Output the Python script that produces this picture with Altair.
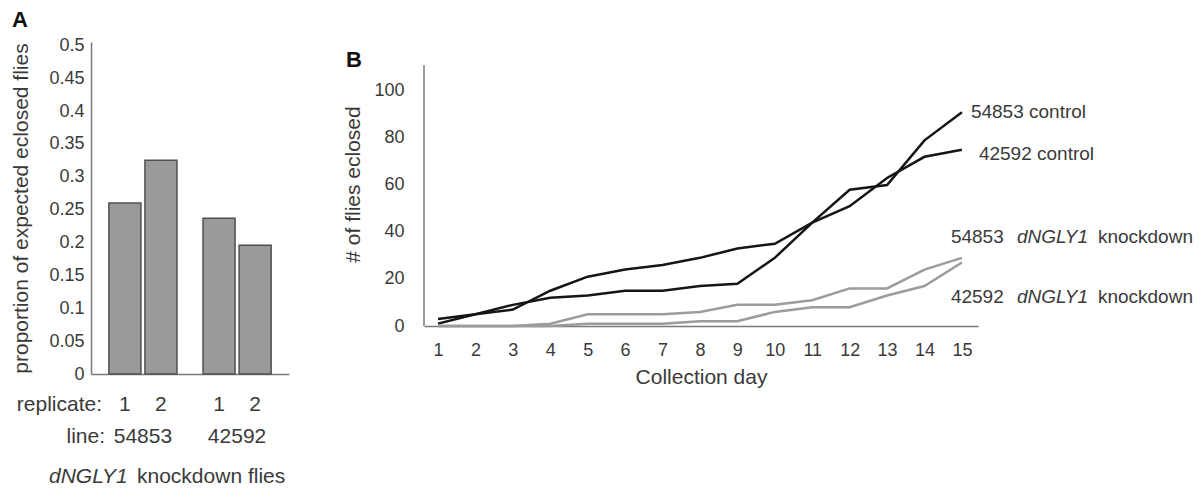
import altair as alt
import pandas as pd

# ---------------- data ----------------
# Panel A
bar_lines = ["54853", "54853", "42592", "42592"]
bar_replicates = ["1", "2", "1", "2"]
bar_props = [0.26, 0.325, 0.237, 0.196]
line_order = ["54853", "42592"]
a_ticks = [0, 0.05, 0.1, 0.15, 0.2, 0.25, 0.3, 0.35, 0.4, 0.45, 0.5]

# Panel B
days = list(range(1, 16))
ctrl_54853 = [3, 5, 9, 12, 13, 15, 15, 17, 18, 29, 44, 58, 60, 79, 91]
ctrl_42592 = [1, 5, 7, 15, 21, 24, 26, 29, 33, 35, 44, 51, 63, 72, 75]
kd_54853 = [0, 0, 0, 1, 5, 5, 5, 6, 9, 9, 11, 16, 16, 24, 29]
kd_42592 = [0, 0, 0, 0, 1, 1, 1, 2, 2, 6, 8, 8, 13, 17, 27]
series_names = ["54853 control", "42592 control", "54853 knockdown", "42592 knockdown"]
series_colors = ["#151515", "#151515", "#9c9c9c", "#9c9c9c"]
b_yticks = [0, 20, 40, 60, 80, 100]

FONT = "Liberation Sans"
TXT = "#3a3a3a"
AX = "#7a7a7a"

df_a = pd.DataFrame({"line": bar_lines, "replicate": bar_replicates, "prop": bar_props})
rows = []
for name, vals in zip(series_names, [ctrl_54853, ctrl_42592, kd_54853, kd_42592]):
    for d, v in zip(days, vals):
        rows.append({"series": name, "day": d, "count": v})
df_b = pd.DataFrame(rows)
one = pd.DataFrame({"k": [0]})

# ---------------- panel A ----------------
A_W, A_H = 198, 332
xA = alt.X("line:N", sort=line_order,
           scale=alt.Scale(paddingInner=0.2766, paddingOuter=0.19),
           axis=alt.Axis(labels=False, ticks=False, title=None, domainColor=AX, domainWidth=1.5))
xoA = alt.XOffset("replicate:N", scale=alt.Scale(paddingInner=0.111, paddingOuter=0))
yA = alt.Y("prop:Q", scale=alt.Scale(domain=[0, 0.505], nice=False),
           axis=alt.Axis(values=a_ticks, format=".2~f", ticks=False, grid=False,
                         labelFontSize=18, labelColor=TXT, labelPadding=7,
                         title="proportion of expected eclosed flies",
                         titleFontSize=21, titleFontWeight="normal", titleColor=TXT,
                         titlePadding=17, domainColor=AX, domainWidth=1.5))

base_a = alt.Chart(df_a)
bars = base_a.mark_bar(fill="#9a9a9a", stroke="#505050", strokeWidth=1.5).encode(
    x=xA, xOffset=xoA, y=yA)
rep_text = base_a.mark_text(font=FONT, fontSize=21, color=TXT, baseline="middle").encode(
    x=alt.X("line:N", sort=line_order), xOffset="replicate:N",
    y=alt.value(363), text="replicate:N")
line_text = base_a.transform_filter(alt.datum.replicate == "1").mark_text(
    font=FONT, fontSize=21, color=TXT, baseline="middle").encode(
    x=alt.X("line:N", sort=line_order), y=alt.value(395), text="line:N")

def label(txt, x, y, size=21, style="normal", weight="normal", align="left", color=TXT):
    return alt.Chart(one).mark_text(text=txt, font=FONT, fontSize=size, color=color,
                                    fontStyle=style, fontWeight=weight, align=align,
                                    baseline="middle").encode(x=alt.value(x), y=alt.value(y))

rep_lab = label("replicate:", 11, 363, align="right")
line_lab = label("line:", 14, 395, align="right")
foot1 = label("dNGLY1", -42, 435, style="italic")
foot2 = label("knockdown flies", 46, 435)
lab_A = label("A", -79, -22, size=22, weight="bold", color="#111")

panel_a = alt.layer(bars, rep_text, line_text, rep_lab, line_lab, foot1, foot2, lab_A).properties(
    width=A_W, height=A_H)

# ---------------- panel B ----------------
B_W, B_H = 554, 284
xB = alt.X("day:Q", scale=alt.Scale(domain=[0.626, 15.43], nice=False, zero=False),
           axis=alt.Axis(values=days, format="d", ticks=False, grid=False, labelOverlap=False,
                         tickCount=15,
                         labelFontSize=18, labelColor=TXT, labelPadding=15,
                         title="Collection day", titleFontSize=21, titleFontWeight="normal",
                         titleColor=TXT, titlePadding=7, domainColor=AX, domainWidth=1.5))
yB = alt.Y("count:Q", scale=alt.Scale(domain=[0, 120.85], nice=False),
           axis=alt.Axis(values=b_yticks, ticks=False, grid=False, domain=False,
                         labelFontSize=18, labelColor=TXT, labelPadding=20,
                         title="# of flies eclosed", titleFontSize=21, titleFontWeight="normal",
                         titleColor=TXT, titlePadding=10))

base_b = alt.Chart(df_b)
lines = base_b.mark_line(strokeWidth=2.5).encode(
    x=xB, y=yB,
    color=alt.Color("series:N", scale=alt.Scale(domain=series_names, range=series_colors), legend=None),
    detail="series:N")
y_axis_line = alt.Chart(one).mark_rule(color=AX, strokeWidth=1.5).encode(
    x=alt.value(0), y=alt.value(23), y2=alt.value(B_H))

def end_label(series, txt, dx, dy, style="normal"):
    return base_b.transform_filter(
        (alt.datum.series == series) & (alt.datum.day == 15)
    ).mark_text(text=txt, font=FONT, fontSize=19, color=TXT, fontStyle=style,
                align="left", baseline="middle", dx=dx, dy=dy).encode(x=xB, y=yB)

end_labels = [
    end_label("54853 control", "54853 control", 9, 0),
    end_label("42592 control", "42592 control", 17, 4),
    end_label("54853 knockdown", "54853", -11, -21),
    end_label("54853 knockdown", "dNGLY1", 55, -21, "italic"),
    end_label("54853 knockdown", "knockdown", 136, -21),
    end_label("42592 knockdown", "42592", -11, 34.5),
    end_label("42592 knockdown", "dNGLY1", 55, 34.5, "italic"),
    end_label("42592 knockdown", "knockdown", 136, 34.5),
]
lab_B = alt.Chart(one).mark_text(text="B", font=FONT, fontSize=22, fontWeight="bold", color="#111",
                                 align="left", baseline="middle").encode(x=alt.value(-78), y=alt.value(18))

panel_b = alt.layer(lines, y_axis_line, *end_labels, lab_B).properties(width=B_W, height=B_H)

chart = alt.hconcat(panel_a, panel_b, spacing=135, bounds="flush").properties(
    padding={"left": 10, "top": 9, "right": 5, "bottom": 5}
).configure(font=FONT).configure_view(stroke=None)

chart.save("out.html", embed_options={"renderer": "svg", "actions": False})
